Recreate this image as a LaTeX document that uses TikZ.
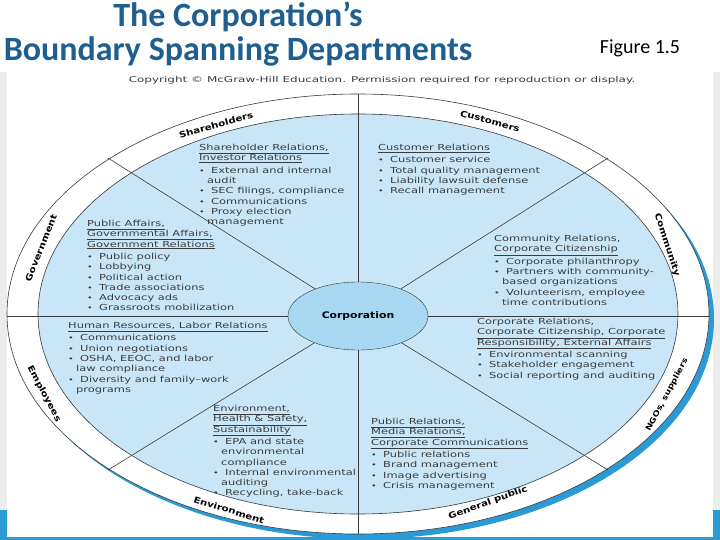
\documentclass[tikz,border=0pt]{standalone}
\usepackage{fontspec}
\setmainfont{DejaVu Sans}
\newfontfamily\deptfont{DejaVu Sans}[FakeStretch=1.38]
\newfontfamily\copyfont{DejaVu Sans}[FakeStretch=1.5]
\newfontfamily\ringfont{DejaVu Sans}[FakeStretch=1.2]
\newfontfamily\titlefont{Carlito}
\usetikzlibrary{shapes.geometric}
\definecolor{titleblue}{HTML}{1F5F8F}
\definecolor{innerblue}{HTML}{C8E6F8}
\definecolor{corpblue}{HTML}{A9D9F2}
\definecolor{rimblue}{HTML}{2A9AD6}
\definecolor{linegray}{HTML}{3A3A3A}
\definecolor{txtgray}{HTML}{3C3C3C}
\definecolor{sidegray}{HTML}{ECECEC}
\definecolor{barblue}{HTML}{2C9BD3}
\newcommand{\bul}{\makebox[12pt][l]{\scriptsize\textbullet}}
\newcommand{\cnt}{\makebox[8pt][l]{}}

\begin{document}
\begin{tikzpicture}[x=1pt, y=-1pt,
  dept/.style={anchor=north west, align=left, inner sep=0pt, text=txtgray,
    font=\deptfont\fontsize{8.3}{10.3}\selectfont},
  ringlbl/.style={inner sep=0pt, font=\ringfont\bfseries\fontsize{8.5}{10}\selectfont},
  spoke/.style={draw=linegray, line width=0.6pt}]
  \useasboundingbox (0,0) rectangle (720,540);

  % slide and picture frame
  \fill[white] (0,0) rectangle (720,540);
  \fill[sidegray] (0,72) rectangle (720,510);
  \fill[barblue] (0,510) rectangle (720,540);
  \fill[white] (7,72) rectangle (713,537);

  % title
  \node[align=center, text=titleblue, font=\titlefont\bfseries\fontsize{34}{34}\selectfont] (ttl) at (238,34) {The Corporation’s\\Boundary Spanning Departments};
  \node[font=\titlefont\fontsize{20}{22}\selectfont] (fig) at (640,48) {Figure 1.5};
  \node[text=txtgray, font=\copyfont\fontsize{8}{9}\selectfont] (copy) at (382,80) {Copyright © McGraw-Hill Education. Permission required for reproduction or display.};

  % rings
  \fill[rimblue] (363,319) ellipse [x radius=351, y radius=220];
  \filldraw[fill=white, draw=linegray, line width=0.6pt] (358,314) ellipse [x radius=351, y radius=220];
  \filldraw[fill=innerblue, draw=linegray, line width=0.6pt] (358,314) ellipse [x radius=320, y radius=200];

  % spoke ends on the outer ring
  \coordinate (otop) at (358,94);
  \coordinate (obot) at (358,534);
  \coordinate (olft) at (7,316);
  \coordinate (orgt) at (709,316);
  \coordinate (oul) at (108,158);
  \coordinate (our) at (608,158);
  \coordinate (oll) at (108,470);
  \coordinate (olr) at (608,470);

  \node[ellipse, draw=linegray, fill=corpblue, minimum width=140pt, minimum height=68pt, inner sep=0pt,
    font=\ringfont\bfseries\fontsize{9}{11}\selectfont] (corp) at (358,316) {Corporation};

  \foreach \e in {otop,obot,olft,orgt,oul,our,oll,olr}
    \draw[spoke] (corp) -- (\e);

  % ring labels
  \node[ringlbl, rotate=16] (lshare) at (216,125) {Shareholders};
  \node[ringlbl, rotate=-15] (lcust) at (490,121) {Customers};
  \node[ringlbl, rotate=-72] (lcomm) at (667,245) {Community};
  \node[ringlbl, rotate=62, font=\ringfont\bfseries\fontsize{7.5}{9}\selectfont] (lngo) at (667,395) {NGOs, suppliers};
  \node[ringlbl, rotate=20] (lpub) at (488,503) {General public};
  \node[ringlbl, rotate=-17] (lenv) at (229,510) {Environment};
  \node[ringlbl, rotate=-62] (lemp) at (44,394) {Employees};
  \node[ringlbl, rotate=68] (lgov) at (41,248) {Government};

  % departments
  \node[dept] (shrhold) at (199,144) {\underline{Shareholder Relations,}\\ \underline{Investor Relations}\\[2pt]
    \bul External and internal\\ \cnt audit\\ \bul SEC filings, compliance\\ \bul Communications\\
    \bul Proxy election\\ \cnt management};
  \node[dept] (custrel) at (378,144) {\underline{Customer Relations}\\[2pt]
    \bul Customer service\\ \bul Total quality management\\ \bul Liability lawsuit defense\\
    \bul Recall management};
  \node[dept] (pubaff) at (87,220) {\underline{Public Affairs,}\\ \underline{Governmental Affairs,}\\
    \underline{Government Relations}\\[2pt]
    \bul Public policy\\ \bul Lobbying\\ \bul Political action\\ \bul Trade associations\\
    \bul Advocacy ads\\ \bul Grassroots mobilization};
  \node[dept] (commrel) at (494,235) {Community Relations,\\ \underline{Corporate Citizenship}\\[2pt]
    \bul Corporate philanthropy\\ \bul Partners with community-\\ \cnt based organizations\\
    \bul Volunteerism, employee\\ \cnt time contributions};
  \node[dept] (hrlab) at (68,322) {\underline{Human Resources, Labor Relations}\\[2pt]
    \bul Communications\\ \bul Union negotiations\\ \bul OSHA, EEOC, and labor\\ \cnt law compliance\\
    \bul Diversity and family–work\\ \cnt programs};
  \node[dept] (corprel) at (477,318) {Corporate Relations,\\ \underline{Corporate Citizenship, Corporate}\\
    \underline{Responsibility, External Affairs}\\[2pt]
    \bul Environmental scanning\\ \bul Stakeholder engagement\\ \bul Social reporting and auditing};
  \node[dept] (envhs) at (213,405) {\underline{Environment,}\\ \underline{Health \& Safety,}\\
    \underline{Sustainability}\\[2pt]
    \bul EPA and state\\ \cnt environmental\\ \cnt compliance\\ \bul Internal environmental\\
    \cnt auditing\\ \bul Recycling, take-back};
  \node[dept] (pubrel) at (371,418) {\underline{Public Relations,}\\ \underline{Media Relations,}\\
    \underline{Corporate Communications}\\[2pt]
    \bul Public relations\\ \bul Brand management\\ \bul Image advertising\\ \bul Crisis management};
\end{tikzpicture}
\end{document}
